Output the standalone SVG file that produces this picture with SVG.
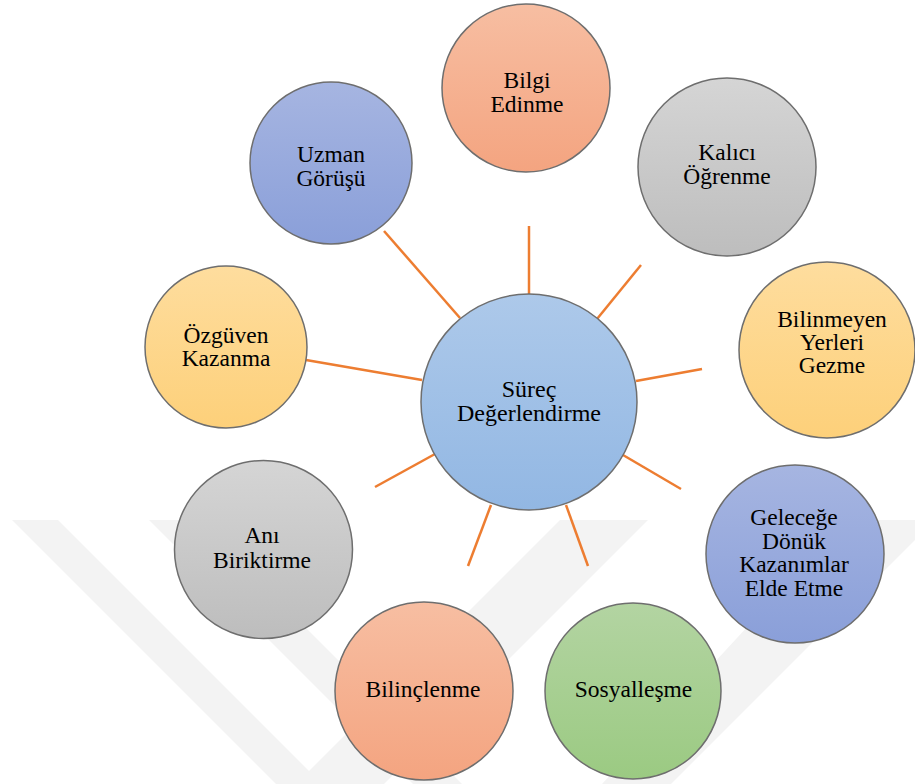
<svg xmlns="http://www.w3.org/2000/svg" width="915" height="784" viewBox="0 0 915 784">
<defs>
<linearGradient id="gSalmon" x1="0" y1="0" x2="0" y2="1"><stop offset="0" stop-color="#f7bea2"/><stop offset="1" stop-color="#f4a480"/></linearGradient>
<linearGradient id="gGrey" x1="0" y1="0" x2="0" y2="1"><stop offset="0" stop-color="#d5d5d5"/><stop offset="1" stop-color="#bdbdbd"/></linearGradient>
<linearGradient id="gYellow" x1="0" y1="0" x2="0" y2="1"><stop offset="0" stop-color="#fedd9e"/><stop offset="1" stop-color="#fdd07a"/></linearGradient>
<linearGradient id="gPurple" x1="0" y1="0" x2="0" y2="1"><stop offset="0" stop-color="#a6b5e1"/><stop offset="1" stop-color="#8a9fd9"/></linearGradient>
<linearGradient id="gGreen" x1="0" y1="0" x2="0" y2="1"><stop offset="0" stop-color="#b3d4a2"/><stop offset="1" stop-color="#9bca82"/></linearGradient>
<linearGradient id="gBlue" x1="0" y1="0" x2="0" y2="1"><stop offset="0" stop-color="#adc9ea"/><stop offset="1" stop-color="#92b7e3"/></linearGradient>
</defs>
<style>
.node circle { stroke:#6e6e6e; stroke-width:1.5; }
.node text { fill:#000; text-anchor:middle; }
.conn line { stroke:#ed7d31; stroke-width:2.5; stroke-linecap:butt; }
.wm { fill:#f3f3f3; }
</style>
<rect width="915" height="784" fill="#ffffff"/>
<g id="watermark">
<polygon class="wm" points="12,520 58,520 322,784 276,784"/>
<polygon class="wm" points="149,520 198,520 462,784 413,784"/>
<polygon class="wm" points="560,520 648,520 384,784 296,784"/>
<polygon class="wm" points="846,520 915,520 915,540 671,784 602,784"/>
</g>
<g id="connectors" class="conn">
<line x1="529" y1="226" x2="529" y2="294"/>
<line x1="641" y1="265" x2="597" y2="319"/>
<line x1="702" y1="369" x2="636" y2="381"/>
<line x1="681" y1="489" x2="623" y2="455"/>
<line x1="588" y1="566" x2="566" y2="505"/>
<line x1="468" y1="566" x2="491" y2="505"/>
<line x1="375" y1="487" x2="435" y2="454"/>
<line x1="306" y1="360" x2="422" y2="380"/>
<line x1="384" y1="231" x2="460" y2="318"/>
</g>
<g font-family="Liberation Serif, DejaVu Serif, serif" font-size="23.5">
<g id="bilgi" class="node"><circle cx="526" cy="88" r="84" fill="url(#gSalmon)"/><text x="527" y="88">Bilgi</text><text x="527" y="112">Edinme</text></g>
<g id="kalici" class="node"><circle cx="727" cy="167" r="89" fill="url(#gGrey)"/><text x="727" y="160">Kalıcı</text><text x="727" y="183.5">Öğrenme</text></g>
<g id="bilinmeyen" class="node"><circle cx="827" cy="350" r="88" fill="url(#gYellow)"/><text x="832" y="327">Bilinmeyen</text><text x="832" y="350">Yerleri</text><text x="832" y="373">Gezme</text></g>
<g id="gelecege" class="node"><circle cx="795" cy="554" r="89" fill="url(#gPurple)"/><text x="794" y="525">Geleceğe</text><text x="794" y="548.5">Dönük</text><text x="794" y="572">Kazanımlar</text><text x="794" y="596">Elde Etme</text></g>
<g id="sosyallesme" class="node"><circle cx="633" cy="691" r="88" fill="url(#gGreen)"/><text x="633.5" y="697">Sosyalleşme</text></g>
<g id="bilinclenme" class="node"><circle cx="424" cy="691" r="89" fill="url(#gSalmon)"/><text x="423" y="697">Bilinçlenme</text></g>
<g id="ani" class="node"><circle cx="263.5" cy="549.5" r="89" fill="url(#gGrey)"/><text x="262" y="543">Anı</text><text x="262" y="568">Biriktirme</text></g>
<g id="ozguven" class="node"><circle cx="226" cy="347" r="81" fill="url(#gYellow)"/><text x="226" y="343">Özgüven</text><text x="226" y="366">Kazanma</text></g>
<g id="uzman" class="node"><circle cx="331" cy="163" r="81" fill="url(#gPurple)"/><text x="331" y="162">Uzman</text><text x="331" y="185.5">Görüşü</text></g>
<g id="center" class="node"><circle cx="529" cy="402" r="108" fill="url(#gBlue)"/><text x="529" y="397" font-size="24">Süreç</text><text x="529" y="421" font-size="24">Değerlendirme</text></g>
</g>
</svg>
